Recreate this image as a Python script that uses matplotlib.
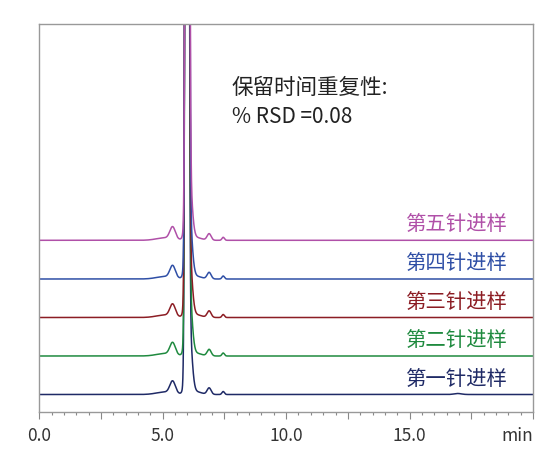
import numpy as np
import matplotlib.pyplot as plt
from matplotlib.ticker import MultipleLocator

plt.rcParams['font.family'] = ['Noto Sans CJK SC', 'DejaVu Sans']

# injections, bottom to top
labels = ['第一针进样', '第二针进样', '第三针进样', '第四针进样', '第五针进样']
colors = ['#1f2a66', '#1f8a3f', '#8c1d24', '#2f4fa6', '#b050a8']
baselines = [17.5, 56.0, 94.5, 133.0, 171.7]
main_rt = [5.985, 5.99, 5.99, 5.995, 6.0]

# peak table: retention time (min), height, width (min)
peak_rt = [5.10, 5.40, 6.06, 6.30, 6.88, 7.45]
peak_h = [2.5, 12.0, 70.0, 3.0, 6.5, 3.0]
peak_w = [0.35, 0.11, 0.11, 0.25, 0.08, 0.05]
main_h = 3000.0
main_w = 0.05
bump_rt = 16.95
bump_h = 1.0
bump_w = 0.15

rsd_title = '保留时间重复性:'
rsd_text = '% RSD =0.08'

t = np.linspace(0, 20, 8001)


def gauss(x, mu, h, w):
    return h * np.exp(-0.5 * ((x - mu) / w) ** 2)


fig = plt.figure(figsize=(5.54, 4.49), dpi=100)
ax = fig.add_axes([39.3 / 554, 37 / 449, (533 - 39.3) / 554, (412 - 24) / 449])

for i in range(len(labels)):
    y = np.full_like(t, baselines[i])
    y += gauss(t, main_rt[i], main_h, main_w)
    for rt, h, w in zip(peak_rt, peak_h, peak_w):
        y += gauss(t, rt, h, w)
    if i == 0:
        y += gauss(t, bump_rt, bump_h, bump_w)
    ax.plot(t, y, color=colors[i], lw=1.1)
    ax.text(18.95, baselines[i] + 5, labels[i], color=colors[i], fontsize=14.7,
            ha='right', va='bottom')

ax.text(7.8, 324, rsd_title, fontsize=15.5, color='#222222', va='center')
ax.text(7.8, 295, rsd_text, fontsize=15, color='#222222', va='center')

ax.set_xlim(0, 20)
ax.set_ylim(0, 388)
ax.set_yticks([])
ax.xaxis.set_minor_locator(MultipleLocator(0.5))
ax.set_xticks([0, 2.5, 5, 7.5, 10, 12.5, 15, 17.5, 20])
ax.set_xticklabels(['0.0', '', '5.0', '', '10.0', '', '15.0', '', ''])
ax.tick_params(axis='x', which='major', length=5, width=0.8, color='#888888',
               labelsize=12.5, labelcolor='#333333', pad=6)
ax.tick_params(axis='x', which='minor', length=2.5, width=0.8, color='#888888')
for s in ax.spines.values():
    s.set_color('#999999')
    s.set_linewidth(1.0)
ax.text(1.0, -0.061, 'min', transform=ax.transAxes, ha='right', va='center',
        fontsize=12.5, color='#333333')

fig.savefig('out.png', dpi=100)
